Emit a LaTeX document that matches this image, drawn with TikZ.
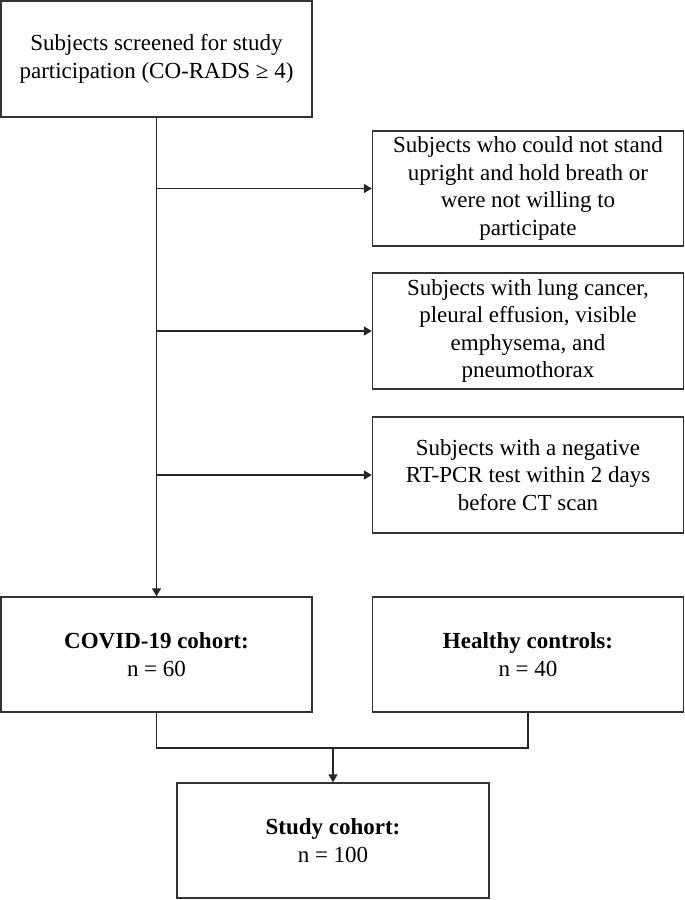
\documentclass[tikz,border=0pt]{standalone}
\usepackage{fontspec}
\setmainfont{Liberation Serif}
\usetikzlibrary{arrows.meta}
\begin{document}
\begin{tikzpicture}[x=1pt,y=-1pt,
  box/.style={draw=black!80, line width=1.3pt, rectangle, inner sep=0pt,
    minimum width=311pt, minimum height=115pt, align=center,
    font=\fontsize{23}{27.5}\selectfont},
  conn/.style={draw=black!85, line width=1.3pt},
  arr/.style={conn, -{Triangle[length=8pt,width=9pt]}}]
\useasboundingbox (0,0) rectangle (685,900);
\node[box, minimum height=116pt] (top) at (156.5,59) {Subjects screened for study\\participation (CO-RADS ≥ 4)};
\node[box] (b1) at (528,188.5) {Subjects who could not stand\\upright and hold breath or\\were not willing to\\participate};
\node[box, minimum height=116pt] (b2) at (528,331) {Subjects with lung cancer,\\pleural effusion, visible\\emphysema, and\\pneumothorax};
\node[box, minimum height=116pt] (b3) at (528,475) {Subjects with a negative\\RT-PCR test within 2 days\\before CT scan};
\node[box] (covid) at (156.5,654.5) {\textbf{COVID-19 cohort:}\\n = 60};
\node[box] (healthy) at (528,654.5) {\textbf{Healthy controls:}\\n = 40};
\node[box, minimum width=312pt] (study) at (333,840.5) {\textbf{Study cohort:}\\n = 100};
\coordinate (j) at (333,748);
\draw[arr] (top.south) -- (covid.north);
\draw[arr] (top.south |- b1.west) -- (b1.west);
\draw[arr] (top.south |- b2.west) -- (b2.west);
\draw[arr] (top.south |- b3.west) -- (b3.west);
\draw[conn] (covid.south) |- (j) -| (healthy.south);
\draw[arr] (j) -- (study.north);
\end{tikzpicture}
\end{document}
